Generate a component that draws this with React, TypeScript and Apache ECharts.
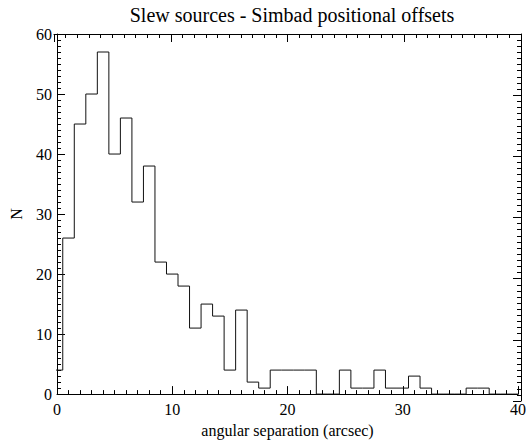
import React, { useEffect, useRef } from "react";
import * as echarts from "echarts";

const title = "Slew sources - Simbad positional offsets";
const xLabel = "angular separation (arcsec)";
const yLabel = "N";
const binCenters = [0,1,2,3,4,5,6,7,8,9,10,11,12,13,14,15,16,17,18,19,20,21,22,23,24,25,26,27,28,29,30,31,32,33,34,35,36,37,38,39,40];
const counts = [4,26,45,50,57,40,46,32,38,22,20,18,11,15,13,4,14,2,1,4,4,4,4,0,0,4,1,1,4,1,1,3,1,0,0,0,1,1,0,0,0];
const binWidth = 1;
const xMax = 40;
const yMax = 60;

const FONT = "Liberation Serif";
const GRID = { left: 54, right: 8, top: 34, bottom: 42 };
const LINE = { show: true, lineStyle: { color: "#000", width: 1 } };

function ticks(len: number, inside: boolean) {
  return {
    axisTick: { show: true, inside, length: len, lineStyle: { color: "#000" } },
    minorTick: { show: true, splitNumber: 10, length: len / 2, lineStyle: { color: "#000" } },
  };
}
const hidden = {
  axisLine: { show: false },
  axisTick: { show: false },
  axisLabel: { show: false },
  splitLine: { show: false },
};

export default function App() {
  const ref = useRef<HTMLDivElement>(null);
  useEffect(() => {
    if (!ref.current) return;
    const chart = echarts.init(ref.current, null, { renderer: "svg" });
    const pts: [number, number][] = [];
    binCenters.forEach((c, i) => {
      pts.push([c - binWidth / 2, counts[i]]);
      pts.push([c + binWidth / 2, counts[i]]);
    });
    chart.setOption({
      animation: false,
      textStyle: { fontFamily: FONT },
      title: {
        text: title,
        left: 287,
        textAlign: "center",
        top: 0,
        textStyle: { fontFamily: FONT, fontSize: 20, fontWeight: "normal", color: "#000" },
      },
      grid: [GRID, GRID, GRID],
      xAxis: [
        {
          gridIndex: 0, type: "value", min: 0, max: xMax, interval: 10,
          axisLine: LINE, ...ticks(8, true), splitLine: { show: false },
          axisLabel: { fontFamily: FONT, fontSize: 16, color: "#000", margin: 7 },
          name: xLabel, nameLocation: "middle", nameGap: 26,
          nameTextStyle: { fontFamily: FONT, fontSize: 16, color: "#000" },
        },
        // top frame axis: sits on y = 0 of an inverted y axis, i.e. the top edge
        {
          gridIndex: 1, type: "value", min: 0, max: xMax, interval: 10,
          axisLine: LINE, ...ticks(8, false), splitLine: { show: false },
          axisLabel: { show: false },
        },
        { gridIndex: 2, type: "value", min: 0, max: xMax, interval: 10, inverse: true, ...hidden },
      ],
      yAxis: [
        {
          gridIndex: 0, type: "value", min: 0, max: yMax, interval: 10,
          axisLine: LINE, ...ticks(-8, false), splitLine: { show: false },
          axisLabel: { fontFamily: FONT, fontSize: 16, color: "#000", margin: 5 },
          name: yLabel, nameLocation: "middle", nameGap: 33, nameRotate: 90,
          nameTextStyle: { fontFamily: FONT, fontSize: 16, color: "#000" },
        },
        { gridIndex: 1, type: "value", min: 0, max: yMax, interval: 10, inverse: true, ...hidden },
        // right frame axis: sits on x = 0 of an inverted x axis, i.e. the right edge
        {
          gridIndex: 2, type: "value", min: 0, max: yMax, interval: 10,
          axisLine: LINE, ...ticks(8, false), splitLine: { show: false },
          axisLabel: { show: false },
        },
      ],
      series: [
        {
          type: "line",
          data: pts,
          xAxisIndex: 0,
          yAxisIndex: 0,
          showSymbol: false,
          symbol: "none",
          clip: true,
          lineStyle: { color: "#111", width: 1 },
        },
      ],
    });
    return () => chart.dispose();
  }, []);
  return <div ref={ref} style={{ width: 529, height: 443, position: "absolute", left: 0, top: 0, background: "#fff" }} />;
}
